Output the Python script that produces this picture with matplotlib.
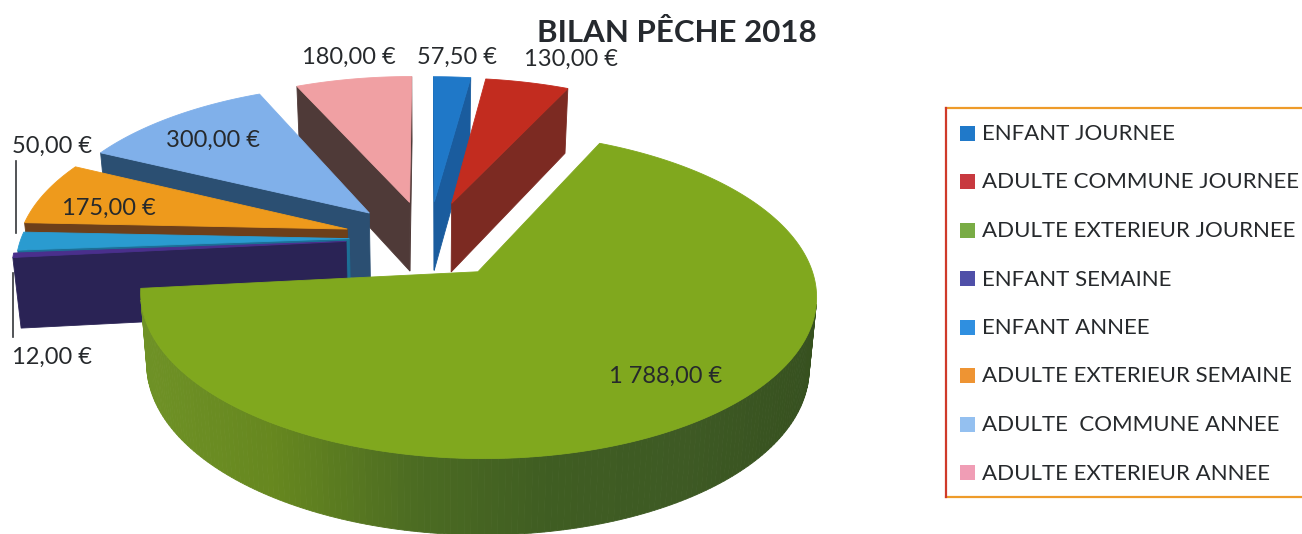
import numpy as np
import matplotlib
matplotlib.use('Agg')
import matplotlib.pyplot as plt
from matplotlib.colors import LinearSegmentedColormap
from matplotlib.patches import Polygon, Rectangle

plt.rcParams['font.family'] = ['Lato', 'DejaVu Sans']

# Chart data, in the order of the legend
categories = ['ENFANT JOURNEE', 'ADULTE COMMUNE JOURNEE', 'ADULTE EXTERIEUR JOURNEE', 'ENFANT SEMAINE',
              'ENFANT ANNEE', 'ADULTE EXTERIEUR SEMAINE', 'ADULTE  COMMUNE ANNEE', 'ADULTE EXTERIEUR ANNEE']
values = [57.5, 130, 1788, 12, 50, 175, 300, 180]
title = 'BILAN PÊCHE 2018'

# Slice styles
top_colors = ['#1f78c8', '#c22c1f', '#80a81e', '#4a2f8c', '#2a9bd0', '#ee9a1c', '#80b0ea', '#f0a0a3']
wall_colors = ['#1a5c9e', '#7c2a22', '#55751f', '#2a2355', '#1c6f96', '#6d3f1a', '#2b4f72', '#4f3a38']
key_colors = ['#2079c9', '#c8393f', '#79ac45', '#4f4fa8', '#2f8fe0', '#ee9433', '#94c0f0', '#f09db5']
explode = [0.30, 0.30, 0.17, 0.25, 0.24, 0.24, 0.25, 0.28]
nudge = [(0, 3), (-3, 3), (17, 7), (0, -5), (0, -5), (-5, -5), (-3, -3), (0, 0)]
draw_order = [7, 0, 1, 6, 5, 4, 3, 2]
green_wall = LinearSegmentedColormap.from_list('green_wall', ['#6f9226', '#66871f', '#4c6c22', '#3f5d22', '#3e5a24', '#36501f'])

# Perspective of the pie on the page, in pixels
CX, CY = 428, 243
RX, RY = 328, 154
PERSP = 0.14
DEPTH = 70

label_pos = {0: (457, 57), 1: (571, 59), 2: (666, 376), 3: (52, 357), 4: (52, 146),
             5: (109, 208), 6: (213, 140), 7: (349, 57)}


def project(x, y, bottom=False):
    s = 1 / (1 + PERSP * y)
    px = CX + RX * x * s
    py = CY - RY * y * s
    if bottom:
        px = CX + (px - CX) * 0.98
        py = py + DEPTH * np.sqrt(s)
    return px, py


def slice_outline(start, stop, offset):
    dx = offset * np.sin((start + stop) / 2)
    dy = offset * np.cos((start + stop) / 2)
    n = max(int(np.degrees(stop - start)), 2)
    th = np.linspace(start, stop, n)
    xs = np.concatenate([[dx], dx + np.sin(th)])
    ys = np.concatenate([[dy], dy + np.cos(th)])
    return xs, ys


def draw_slice(ax, i, start, stop):
    xs, ys = slice_outline(start, stop, explode[i])
    shift = np.array(nudge[i])
    n = len(xs)
    for k in range(n):
        m = (k + 1) % n
        a = project(xs[k], ys[k])
        b = project(xs[m], ys[m])
        c = project(xs[m], ys[m], True)
        d = project(xs[k], ys[k], True)
        quad = np.array([a, b, c, d]) + shift
        area = np.sum(quad[:, 0] * np.roll(quad[:, 1], -1) - np.roll(quad[:, 0], -1) * quad[:, 1])
        if area >= 0:
            continue
        color = wall_colors[i]
        if i == 2 and 0 < k < n - 1:
            color = green_wall((quad[:, 0].mean() - 140) / 680)
        ax.add_patch(Polygon(quad, closed=True, facecolor=color, edgecolor=color, lw=0.6))
    top = np.array([project(x, y) for x, y in zip(xs, ys)]) + shift
    ax.add_patch(Polygon(top, closed=True, facecolor=top_colors[i], edgecolor=top_colors[i], lw=0.6))


def money(v):
    return f'{v:,.2f} €'.replace(',', ' ').replace('.', ',')


fig = plt.figure(figsize=(13.02, 5.34), dpi=100)
ax = fig.add_axes([0, 0, 1, 1])
ax.set_xlim(0, 1302)
ax.set_ylim(534, 0)
ax.axis('off')

edges = np.concatenate([[0], np.cumsum(values)]) / np.sum(values) * 2 * np.pi
for i in draw_order:
    draw_slice(ax, i, edges[i], edges[i + 1])

# labels and leader lines
for i, v in enumerate(values):
    x, y = label_pos[i]
    ax.text(x, y, money(v), fontsize=17, color='#26292c', ha='center', va='center')
ax.plot([16, 16], [161, 233], color='#33363a', lw=1.2)
ax.plot([12.5, 12.5], [273, 337], color='#33363a', lw=1.2)

ax.text(677, 33, title, fontsize=22.5, fontweight='bold', color='#25292e', ha='center', va='center')

# legend frame, open on the right
ax.plot([1302, 946], [108, 108], color='#ee9b2a', lw=1.6)
ax.plot([946, 1302], [497, 497], color='#ee9b2a', lw=1.6)
ax.plot([946, 946], [108, 497], color='#cf3a2a', lw=1.6)
for i, name in enumerate(categories):
    y = 133 + i * 48.5
    ax.add_patch(Rectangle((960, y - 7.5), 15, 15, facecolor=key_colors[i], edgecolor='none'))
    ax.text(982, y + 1, name, fontsize=16, color='#26292c', ha='left', va='center')

fig.savefig('out.png', dpi=100)
